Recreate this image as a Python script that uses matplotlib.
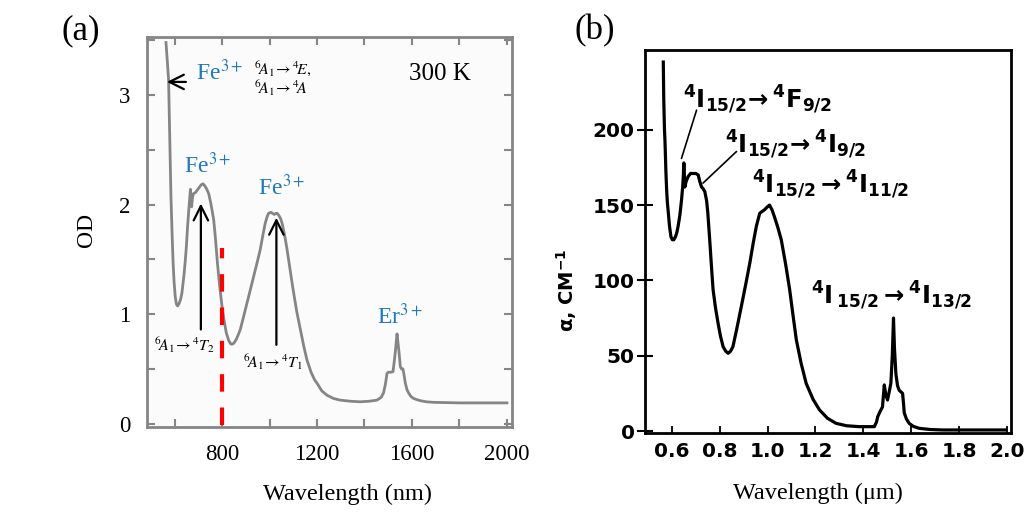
import matplotlib
matplotlib.use("Agg")
import matplotlib.pyplot as plt
from matplotlib.ticker import MultipleLocator

# ---- panel (a): optical density of the Er/Fe doped crystal at 300 K ----
wl_nm = [564, 570, 575, 580, 585, 590, 594, 598, 603, 608, 613, 620, 626, 631,
         640, 645, 650, 655, 660, 664, 667, 670, 672, 676, 680, 688, 695, 705,
         712, 720, 728, 736, 744, 752, 758, 765, 772, 781, 790, 800, 808, 818,
         828, 836, 842, 850, 860, 868, 877, 890, 905, 919, 935, 950, 961, 972,
         982, 990, 996, 1006, 1013, 1020, 1027, 1032, 1040, 1047, 1053, 1060,
         1067, 1074, 1085, 1094, 1102, 1115, 1130, 1145, 1158, 1175, 1190, 1200,
         1220, 1242, 1270, 1298, 1340, 1382, 1420, 1452, 1470, 1480, 1488, 1495,
         1500, 1510, 1520, 1526, 1530, 1537, 1542, 1545, 1551, 1556, 1562, 1567,
         1572, 1579, 1586, 1595, 1607, 1620, 1635, 1660, 1690, 1800, 2000]
od = [3.48, 3.30, 3.14, 2.60, 2.07, 1.72, 1.47, 1.30, 1.16, 1.09, 1.075, 1.10,
      1.14, 1.19, 1.36, 1.48, 1.62, 1.80, 1.95, 2.06, 2.14, 2.05, 1.98, 2.07,
      2.10, 2.11, 2.13, 2.16, 2.18, 2.19, 2.17, 2.14, 2.10, 2.02, 1.95, 1.86,
      1.70, 1.46, 1.26, 1.07, 0.95, 0.83, 0.76, 0.73, 0.725, 0.735, 0.77, 0.81,
      0.86, 0.97, 1.10, 1.22, 1.36, 1.49, 1.59, 1.72, 1.83, 1.89, 1.92, 1.93,
      1.92, 1.91, 1.92, 1.92, 1.90, 1.87, 1.83, 1.76, 1.68, 1.59, 1.43, 1.30,
      1.19, 1.02, 0.86, 0.70, 0.58, 0.47, 0.40, 0.37, 0.30, 0.26, 0.23, 0.215,
      0.205, 0.20, 0.205, 0.215, 0.24, 0.28, 0.36, 0.46, 0.47, 0.47, 0.475,
      0.58, 0.66, 0.82, 0.72, 0.66, 0.52, 0.50, 0.50, 0.44, 0.37, 0.31, 0.28,
      0.25, 0.23, 0.22, 0.21, 0.20, 0.195, 0.19, 0.19]
cutoff_nm = 800
a_xticks = [800, 1200, 1600, 2000]
a_yticks = [0, 1, 2, 3]

# ---- panel (b): absorption coefficient of Er3+ ----
wl_um = [0.564, 0.566, 0.569, 0.571, 0.575, 0.578, 0.581, 0.585, 0.590, 0.596,
         0.602, 0.608, 0.615, 0.621, 0.626, 0.633, 0.640, 0.645, 0.648, 0.650,
         0.652, 0.654, 0.660, 0.668, 0.678, 0.689, 0.700, 0.710, 0.716, 0.724,
         0.730, 0.7375, 0.745, 0.750, 0.758, 0.765, 0.772, 0.782, 0.793, 0.803,
         0.814, 0.825, 0.835, 0.845, 0.855, 0.870, 0.890, 0.908, 0.925, 0.940,
         0.953, 0.967, 0.9875, 1.000, 1.008, 1.018, 1.029, 1.043, 1.057, 1.075,
         1.092, 1.106, 1.120, 1.140, 1.161, 1.190, 1.217, 1.250, 1.286, 1.330,
         1.383, 1.446, 1.455, 1.460, 1.470, 1.480, 1.4875, 1.494, 1.501, 1.508,
         1.515, 1.521, 1.526, 1.530, 1.536, 1.543, 1.550, 1.564, 1.568, 1.571,
         1.580, 1.592, 1.610, 1.633, 1.680, 1.730, 1.995]
alpha = [245, 220, 200, 193, 172, 160, 152, 145, 136, 129, 127, 127, 129, 132,
         136, 143, 153, 162, 170, 178, 170, 162, 166, 169, 171, 171, 171, 170,
         166, 162, 161, 159, 153, 145, 127, 110, 94, 82, 71.5, 63, 56, 53, 51.6,
         53, 56, 67, 82.6, 97, 111, 125, 136, 144.6, 147, 149, 150, 147, 142,
         135, 127, 111, 94, 77, 60.5, 45, 31.7, 21, 14, 8.5, 5.1, 3.5, 2.9, 2.9,
         6, 9.5, 13, 16, 30.6, 24, 20.6, 26, 31.7, 50, 75, 55, 38, 30, 27, 25,
         18, 12, 8, 5, 3, 1.8, 1.0, 0.7, 0.7]
b_xticks = [0.6, 0.8, 1.0, 1.2, 1.4, 1.6, 1.8, 2.0]
b_xticklabels = ["0.6", "0.8", "1.0", "1.2", "1.4", "1.6", "1.8", "2.0"]
b_yticks = [0, 50, 100, 150, 200]

SERIF = "Liberation Serif"
BLUE = "#1f78c0"
GRAY = "#858585"

fig = plt.figure(figsize=(10.29, 5.25), dpi=100)
fig.patch.set_facecolor("white")

# ================= panel (a) =================
ax = fig.add_axes([0.1426, 0.1867, 0.3547, 0.7428])
ax.set_facecolor("#fbfbfb")
ax.plot(wl_nm, od, color=GRAY, lw=2.0, solid_joinstyle="round")
ax.plot([cutoff_nm, cutoff_nm], [-0.01, 1.60], color="#ff0000", lw=3.0,
        dashes=(4.2, 3.8))
ax.set_xlim(483, 2020)
ax.set_ylim(-0.03, 3.53)
ax.set_xticks(a_xticks)
ax.set_xticks([600, 1000, 1400, 1800], minor=True)
ax.set_yticks(a_yticks)
ax.yaxis.set_minor_locator(MultipleLocator(0.5))
for s in ax.spines.values():
    s.set_color(GRAY)
    s.set_linewidth(2.0)
ax.tick_params(which="both", direction="in", length=6, width=1.5,
               color=GRAY, top=True, right=True, labelsize=16.5, pad=12)
for lab in ax.get_xticklabels() + ax.get_yticklabels():
    lab.set_fontfamily(SERIF)
ax.set_xlabel("Wavelength (nm)", fontsize=17.5, fontfamily=SERIF)
ax.xaxis.set_label_coords(0.551, -0.174)
ax.xaxis.label.set_va("center")
ax.set_ylabel("OD", fontsize=17, fontfamily=SERIF)
ax.yaxis.set_label_coords(-0.164, 0.505)
ax.yaxis.label.set_va("center")

def blue(x, y, s):
    ax.text(x, y, s, color=BLUE, fontsize=17, fontfamily=SERIF,
            math_fontfamily="stix", ha="center", va="center")

def trans(x, y, s, ha="center"):
    ax.text(x, y, s, color="black", fontsize=11.5, fontfamily=SERIF,
            math_fontfamily="stix", ha=ha, va="center")

blue(789, 3.21, r"Fe$^{3+}$")
blue(738, 2.36, r"Fe$^{3+}$")
blue(1050, 2.16, r"Fe$^{3+}$")
blue(1551, 0.98, r"Er$^{3+}$")
trans(935, 3.24, r"$^6\!A_1\!\rightarrow{}^4\!E,$", ha="left")
trans(935, 3.06, r"$^6\!A_1\!\rightarrow{}^4\!A$", ha="left")
trans(641, 0.72, r"$^6\!A_1\!\rightarrow{}^4T_2$")
trans(1016, 0.56, r"$^6\!A_1\!\rightarrow{}^4T_1$")
ax.text(1719, 3.19, "300 K", fontsize=18, fontfamily=SERIF,
        ha="center", va="center")

arrow = dict(arrowstyle="->", lw=1.6, color="black", mutation_scale=26,
             shrinkA=0, shrinkB=0)
ax.annotate("", xy=(568, 3.12), xytext=(648, 3.12), arrowprops=arrow)
ax.annotate("", xy=(711, 2.01), xytext=(711, 0.86), arrowprops=arrow)
ax.annotate("", xy=(1029, 1.88), xytext=(1029, 0.72), arrowprops=arrow)

# ================= panel (b) =================
bx = fig.add_axes([0.6268, 0.1747, 0.3557, 0.7301])
bx.plot(wl_um, alpha, color="black", lw=2.3, solid_joinstyle="round")
bx.set_xlim(0.4875, 2.017)
bx.set_ylim(-1.5, 253)
bx.set_xticks(b_xticks)
bx.set_xticklabels(b_xticklabels)
bx.set_yticks(b_yticks)
for s in bx.spines.values():
    s.set_color("black")
    s.set_linewidth(2.0)
bx.tick_params(axis="y", direction="inout", length=11, width=1.5, pad=2,
               labelsize=14.5)
bx.tick_params(axis="x", direction="in", length=5, width=1.3, pad=6,
               labelsize=14.5)
for lab in bx.get_xticklabels() + bx.get_yticklabels():
    lab.set_fontweight("bold")
bx.set_xlabel("Wavelength (\u03bcm)", fontsize=17.5, fontfamily=SERIF)
bx.xaxis.set_label_coords(0.473, -0.157)
bx.xaxis.label.set_va("center")
bx.set_ylabel(r"$\mathbf{\alpha}$, CM$\mathbf{^{-1}}$", fontsize=14,
              fontweight="bold", math_fontfamily="dejavusans")
bx.yaxis.set_label_coords(-0.213, 0.373)
bx.yaxis.label.set_va("center")

def level(x, y, s):
    bx.text(x, y, s, fontsize=17.5, math_fontfamily="dejavusans",
            ha="left", va="center")

level(0.646, 220, r"$\mathbf{{}^4I_{15/2}\!\rightarrow{}^4F_{9/2}}$")
level(0.821, 190, r"$\mathbf{{}^4I_{15/2}\!\rightarrow{}^4I_{9/2}}$")
level(0.933, 163.5, r"$\mathbf{{}^4I_{15/2}\rightarrow{}^4I_{11/2}}$")
level(1.183, 90, r"$\mathbf{{}^4I\,_{15/2}\rightarrow{}^4I_{13/2}}$")

lead = dict(arrowstyle="-", lw=1.2, color="black", shrinkA=0, shrinkB=0)
bx.annotate("", xy=(0.640, 181), xytext=(0.703, 213), arrowprops=lead)
bx.annotate("", xy=(0.730, 164.6), xytext=(0.870, 185.6), arrowprops=lead)

fig.text(81 / 1029, 1 - 31 / 525, "(a)", fontsize=25, fontfamily=SERIF,
         ha="center", va="center")
fig.text(595 / 1029, 1 - 31 / 525, "(b)", fontsize=25, fontfamily=SERIF,
         ha="center", va="center")

fig.savefig("out.png", dpi=100)
